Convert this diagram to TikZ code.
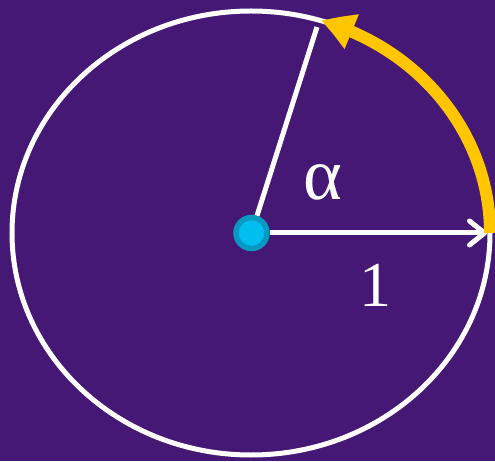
\documentclass[tikz,border=0pt]{standalone}
\usepackage{fontspec}
\setmainfont{Liberation Serif}
\usetikzlibrary{arrows.meta,bending}
\definecolor{bgpurple}{RGB}{70,24,118}
\definecolor{arcyellow}{RGB}{255,198,0}
\definecolor{dotcyan}{RGB}{0,190,240}
\definecolor{dotrim}{RGB}{8,152,192}

\begin{document}
\begin{tikzpicture}[
  x=1pt, y=1pt,
  font=\fontsize{64}{64}\selectfont,
  rim/.style={draw=white, line width=5pt},
  radius/.style={white, line width=5pt},
  radiusarrow/.style={radius, -{Straight Barb[length=15pt,width=24pt,round]}},
  sweep/.style={arcyellow, line width=12pt, -{Triangle[length=33pt,width=35pt,bend]}},
  centredot/.style={circle, fill=dotcyan, draw=dotrim, line width=5.5pt,
    minimum size=31pt, inner sep=0pt},
  label/.style={text=white, inner sep=0pt}
]
\fill[bgpurple] (0,0) rectangle (495,461);
\useasboundingbox (0,0) rectangle (495,461);
% unit circle, seen a little squashed
\draw[rim] (251,228) ellipse [x radius=239pt, y radius=222pt];
\node[centredot] (o) at (251.5,228) {};
\coordinate (r) at (487,228);
\coordinate (a) at (317,434);
\draw[radius] (o) -- (a);
\draw[radiusarrow] (o) -- (r);
\draw[sweep] (490,228) arc [start angle=0, end angle=73, x radius=239pt, y radius=222pt];
\node[label, font=\fontsize{74}{74}\selectfont] (alpha) at (323,279) {α};
\node[label] (one) at (375,176) {1};
\end{tikzpicture}
\end{document}
